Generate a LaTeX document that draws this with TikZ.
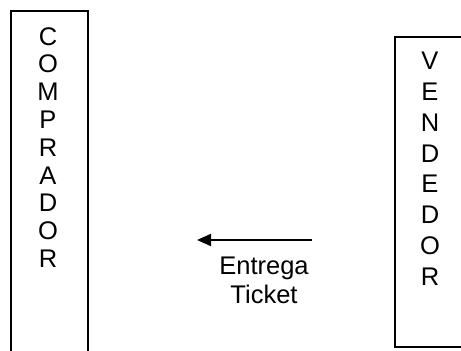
\documentclass[tikz,border=0pt]{standalone}
\usepackage{fontspec}
\setmainfont{Liberation Sans}
\usetikzlibrary{arrows.meta}
\begin{document}
\begin{tikzpicture}[x=1pt,y=-1pt,
  lane/.style={draw=black,line width=1.5pt,inner sep=0pt},
  lanetext/.style={align=center,inner sep=0pt,anchor=north},
  msg/.style={line width=2pt,-{Triangle[length=14pt,width=12pt]}},
  msgtext/.style={align=center,inner sep=0pt,font=\fontsize{25.5}{28.5}\selectfont}]
\useasboundingbox[clip] (0,0) rectangle (461,351);
\fill[white] (0,0) rectangle (461,351);
% participant lanes (both run past the page edge)
\node[lane,minimum width=77pt,minimum height=370pt] (comprador) at (49.5,196) {};
\node[lane,minimum width=80pt,minimum height=310pt] (vendedor) at (435,192) {};
\node[lanetext,font=\fontsize{25.5}{27.8}\selectfont] (ctext) at (48,27) {C\\O\\M\\P\\R\\A\\D\\O\\R};
\node[lanetext,font=\fontsize{25.5}{30.8}\selectfont] (vtext) at (430,52) {V\\E\\N\\D\\E\\D\\O\\R};
% message
\coordinate (from) at (312,240);
\coordinate (to) at (197,240);
\draw[msg] (from) -- (to);
\node[msgtext,anchor=north] (label) at (264,257) {Entrega\\Ticket};
\end{tikzpicture}
\end{document}
